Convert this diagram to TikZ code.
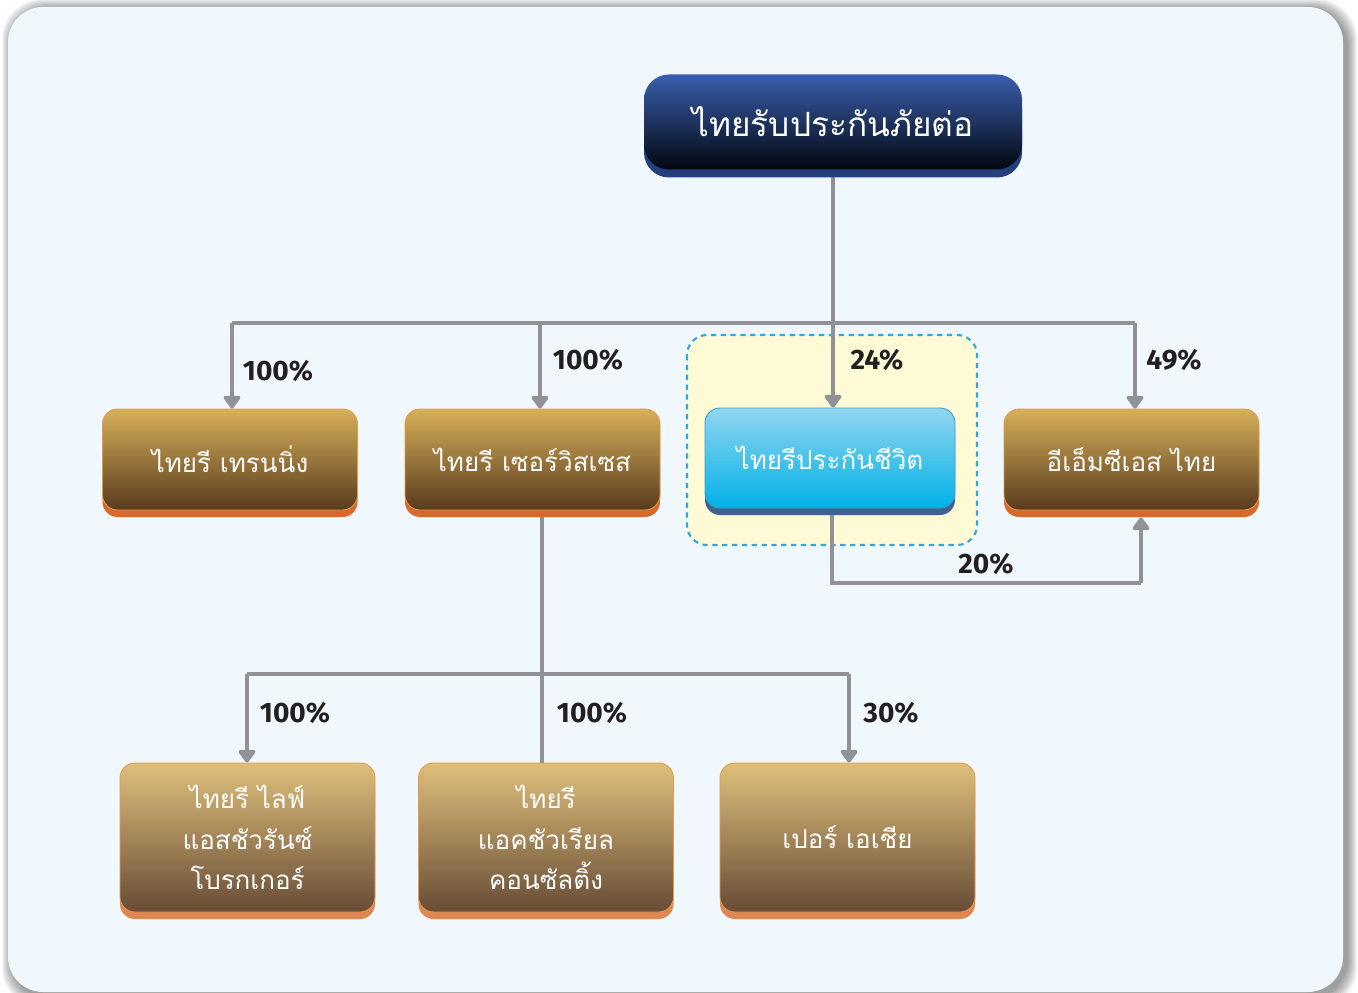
\documentclass[tikz,border=0pt]{standalone}
\usepackage{fontspec}
\usetikzlibrary{arrows.meta,shadows,calc}
\newfontfamily\thaifont[Script=Thai]{Loma}
\newfontfamily\labfont{Fira Sans}
\definecolor{panelbg}{HTML}{F0F8FE}
\definecolor{conn}{HTML}{909297}
\definecolor{labtxt}{HTML}{231F20}
\definecolor{gAtop}{HTML}{D6B05A}
\definecolor{gAmid}{HTML}{A98449}
\definecolor{gAbot}{HTML}{5A3B1E}
\definecolor{gBtop}{HTML}{DEBF7B}
\definecolor{gBmid}{HTML}{BA9C69}
\definecolor{gBbot}{HTML}{684C36}
\definecolor{edgeA}{HTML}{D8692C}
\definecolor{edgeB}{HTML}{E08650}
\definecolor{goldline}{HTML}{E59A45}
\definecolor{bTop}{HTML}{92D6EF}
\definecolor{bMid}{HTML}{06B6EA}
\definecolor{bBot}{HTML}{00B0E8}
\definecolor{bEdge}{HTML}{3E628E}
\definecolor{bLine}{HTML}{3AA0C8}
\definecolor{nTop}{HTML}{3A5FAE}
\definecolor{nMid}{HTML}{30509A}
\definecolor{nBot}{HTML}{03070F}
\definecolor{nEdge}{HTML}{243F7E}
\definecolor{hiFill}{HTML}{FFFAD6}
\definecolor{hiLine}{HTML}{2CA7DF}
\pgfdeclarelayer{bg}
\pgfdeclarelayer{lines}
\pgfsetlayers{bg,lines,main}
\tikzset{
  boxbase/.style={rounded corners=3mm, text=white, align=center, inner sep=0pt,
    font=\thaifont\fontsize{14.8}{23}\selectfont},
  goldA/.style={boxbase, draw=goldline, line width=0.5pt,
    top color=gAtop, middle color=gAmid, bottom color=gAbot,
    minimum width={255*0.2mm}, minimum height={101*0.2mm},
    drop shadow={shadow xshift=0mm, shadow yshift=-1.4mm, fill=edgeA, opacity=1}},
  goldB/.style={boxbase, draw=goldline, line width=0.5pt,
    top color=gBtop, middle color=gBmid, bottom color=gBbot,
    minimum width={255*0.2mm}, minimum height={149*0.2mm},
    drop shadow={shadow xshift=0mm, shadow yshift=-1.4mm, fill=edgeB, opacity=1}},
  bluebox/.style={boxbase, draw=bLine, line width=0.5pt,
    top color=bTop, middle color=bMid, bottom color=bBot,
    minimum width={250*0.2mm}, minimum height={100*0.2mm},
    drop shadow={shadow xshift=0mm, shadow yshift=-1.4mm, fill=bEdge, opacity=1}},
  navybox/.style={boxbase, rounded corners=5mm,
    top color=nTop, middle color=nMid, bottom color=nBot,
    minimum width={378*0.2mm}, minimum height={95*0.2mm},
    font=\thaifont\fontsize{19}{25}\selectfont,
    drop shadow={shadow xshift=0mm, shadow yshift=-1.6mm, fill=nEdge, opacity=1}},
  conline/.style={draw=conn, line width=2.1pt},
  conarrow/.style={conline, -{Triangle[width=11pt,length=8pt,round]}},
  pct/.style={font=\labfont\bfseries\fontsize{16}{18}\selectfont, text=labtxt, inner sep=0pt}
}
\begin{document}
\begin{tikzpicture}[x=0.2mm,y=-0.2mm]
\useasboundingbox (0,0) rectangle (1358,993);
\begin{pgfonlayer}{bg}
  \fill[white] (0,0) rectangle (1358,993);
  \foreach \i in {1,...,10}
    \fill[black, opacity=0.045, rounded corners=8mm]
      (12-\i,9-\i) rectangle (1347+\i,998+\i);
  \fill[panelbg, rounded corners=7mm] (8,7) rectangle (1343,992);
  \filldraw[fill=hiFill, draw=hiLine, line width=1.2pt, dash pattern=on 3pt off 2.6pt,
    rounded corners=4mm] (687,335) rectangle (977,545);
\end{pgfonlayer}

% nodes
\node[navybox] (top) at (833,122) {ไทยรับประกันภัยต่อ};
\node[goldA] (b1) at (230,459.5) {ไทยรี เทรนนิ่ง};
\node[goldA] (b2) at (532.5,459.5) {ไทยรี เซอร์วิสเซส};
\node[bluebox] (life) at (830,458) {ไทยรีประกันชีวิต};
\node[goldA] (b4) at (1131.5,459.5) {อีเอ็มซีเอส ไทย};
\node[goldB] (c1) at (247.5,837.5) {ไทยรี ไลฟ์\\แอสชัวรันซ์\\โบรกเกอร์};
\node[goldB] (c2) at (546,837.5) {ไทยรี\\แอคชัวเรียล\\คอนซัลติ้ง};
\node[goldB] (c3) at (847.5,837.5) {เปอร์ เอเชีย};

% labels
\node[pct] (p1) at (278,371) {100\%};
\node[pct] (p2) at (588,360) {100\%};
\node[pct] (p3) at (877,360) {24\%};
\node[pct] (p4) at (1174,360) {49\%};
\node[pct] (p5) at (986,564) {20\%};
\node[pct] (p6) at (295,713) {100\%};
\node[pct] (p7) at (592,713) {100\%};
\node[pct] (p8) at (891,713) {30\%};

% junction coordinates
\coordinate (bus1) at (833,323);
\coordinate (d1) at (232,323);
\coordinate (d2) at (540,323);
\coordinate (d4) at (1135,323);
\coordinate (bus2) at (542,674);
\coordinate (e1) at (247,674);
\coordinate (e3) at (849,674);
\coordinate (low) at (832,583);
\coordinate (lowR) at (1141,583);

\begin{pgfonlayer}{lines}
  \draw[conline] (top.south -| bus1) -- (bus1);
  \draw[conline] (d1) -- (d4);
  \draw[conarrow] (d1) -- (b1.north -| d1);
  \draw[conarrow] (d2) -- (b2.north -| d2);
  \draw[conarrow] (bus1) -- (life.north -| bus1);
  \draw[conarrow] (d4) -- (b4.north -| d4);
  \draw[conline] (life.south -| low) -- (low) -- (lowR);
  \draw[conarrow] (lowR) -- ([yshift=-1.4mm]b4.south -| lowR);
  \draw[conline] (b2.south -| bus2) -- (bus2) -- (c2.north -| bus2);
  \draw[conline] (e1) -- (e3);
  \draw[conarrow] (e1) -- (c1.north -| e1);
  \draw[conarrow] (e3) -- (c3.north -| e3);
\end{pgfonlayer}
\end{tikzpicture}
\end{document}
